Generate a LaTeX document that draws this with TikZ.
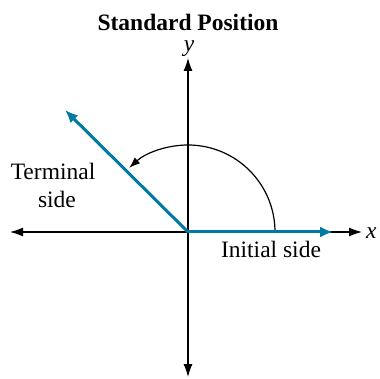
\documentclass[tikz,border=0pt]{standalone}
\usepackage{fontspec}
\setmainfont{Liberation Serif}
\usetikzlibrary{arrows.meta}
\definecolor{sideblue}{RGB}{0,122,160}
\begin{document}
\begin{tikzpicture}[x=1pt,y=-1pt,
  axis/.style={line width=1.1pt,-{Latex[length=13pt,width=9pt]}},
  ray/.style={sideblue,line width=3pt,-{Latex[length=13pt,width=11pt]}},
  lbl/.style={font=\fontsize{23.5}{28}\selectfont,inner sep=0pt},
  ]
\useasboundingbox (0,0) rectangle (380,379);
\coordinate (O) at (188,232);
\coordinate (xl) at (10,232);
\coordinate (xr) at (362,232);
\coordinate (yt) at (188,58);
\coordinate (yb) at (188,377);
\coordinate (ie) at (333,232);
\coordinate (te) at (65,110);
\node[lbl,font=\fontsize{23.5}{28}\selectfont\bfseries,anchor=base] (title) at (188,31) {Standard Position};
\node[lbl,anchor=base] (ylab) at (189,52) {\itshape y};
\node[lbl,anchor=base west] (xlab) at (366,239) {\itshape x};
\draw[axis] (O) -- (xr);
\draw[axis] (O) -- (xl);
\draw[axis] (O) -- (yt);
\draw[axis] (O) -- (yb);
\draw[line width=2.6pt] (O) -- (188,268);
\draw[line width=1.2pt,-{Latex[length=11pt,width=8pt]}] (275,232) arc[start angle=0,end angle=-132.5,radius=87];
\draw[ray] (O) -- (ie);
\draw[ray] (O) -- (te);
\node[lbl,anchor=base] (term) at (53,180) {Terminal};
\node[lbl,anchor=base] (side) at (57,208) {side};
\node[lbl,anchor=base] (init) at (271,258) {Initial side};
\end{tikzpicture}
\end{document}
